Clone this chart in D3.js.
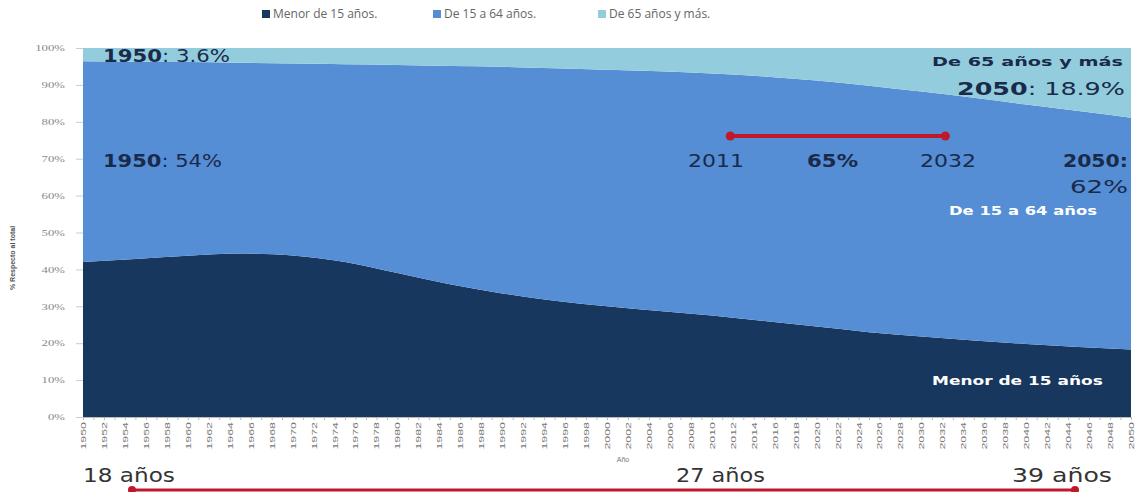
<!DOCTYPE html>
<html><head><meta charset="utf-8">
<script src="https://cdn.jsdelivr.net/npm/d3@7"></script>
<style>body{margin:0;background:#fff}svg{display:block}</style>
</head><body>
<svg id="c" width="1135" height="492"></svg>
<script>
const years =   [1950,1955,1960,1965,1970,1975,1980,1985,1990,1995,2000,2005,2010,2015,2020,2025,2030,2035,2040,2045,2050];
const young =   [42.0,42.8,43.7,44.3,43.8,42.0,39.0,36.0,33.5,31.5,30.0,28.7,27.5,26.0,24.5,23.0,21.8,20.7,19.8,19.0,18.3];
const old =     [3.6, 3.7, 3.8, 4.0, 4.2, 4.4, 4.6, 4.9, 5.1, 5.5, 5.9, 6.3, 6.9, 7.7, 8.8, 10.2,11.8,13.5,15.3,17.1,18.9];
const seriesNames = ["Menor de 15 años.","De 15 a 64 años.","De 65 años y más."];
const colors = ["#17375E","#558ED5","#93CDDD"];
const yTicks = [0,10,20,30,40,50,60,70,80,90,100];
const xLabelYears = d3.range(1950,2051,2);

const rows = years.map((y,i)=>({year:y, a:young[i], c:old[i], b:100-young[i]-old[i]}));
const svg = d3.select("#c");
const L=83,R=1131,T=48,B=417;
const x = d3.scaleLinear().domain([1950,2050]).range([L,R]);
const y = d3.scaleLinear().domain([0,100]).range([B,T]);
const stack = d3.stack().keys(["a","b","c"])(rows);
const area = d3.area().x(d=>x(d.data.year)).y0(d=>y(d[0])).y1(d=>y(d[1])).curve(d3.curveMonotoneX);
svg.append("g").selectAll("path").data(stack).join("path")
  .attr("d",area).attr("fill",(d,i)=>colors[i]);

function stretch(sel,k){
  sel.each(function(){const w=this.getComputedTextLength();
    d3.select(this).attr("textLength",w*k).attr("lengthAdjust","spacingAndGlyphs");});
}

// y axis
const ya = svg.append("g").attr("transform",`translate(${L},0)`)
  .call(d3.axisLeft(y).tickValues(yTicks).tickFormat(d=>d+"%").tickSize(7).tickPadding(11));
ya.select(".domain").remove();
ya.selectAll("line").attr("stroke","#ccc");
ya.selectAll("text").attr("fill","#888").style("font-family","Liberation Serif").style("font-size","8.5px");
stretch(ya.selectAll("text"),1.5);

// x axis
const xa = svg.append("g").attr("transform",`translate(0,${B})`)
  .call(d3.axisBottom(x).tickValues(d3.range(1950,2051,1)).tickFormat("").tickSize(3));
xa.select(".domain").attr("stroke","#bbb");
xa.selectAll("line").attr("stroke","#bbb");
const xl = svg.append("g").selectAll("text").data(xLabelYears).join("text")
  .attr("transform",d=>`translate(${x(d)+3},${B+5}) rotate(-90)`)
  .attr("text-anchor","end").attr("fill","#777")
  .style("font-family","Liberation Sans").style("font-size","8px").text(d=>d);
stretch(xl,1.55);
svg.append("text").attr("x",623).attr("y",462).attr("text-anchor","middle")
  .attr("fill","#777").style("font-family","Liberation Sans").style("font-size","7px").text("Año");
svg.append("text").attr("transform","translate(15,258) rotate(-90)").attr("text-anchor","middle")
  .attr("fill","#555").style("font-family","Liberation Sans").style("font-size","7px").style("font-weight","bold").text("% Respecto al total");

// legend
const lg = svg.append("g");
const lx = [262,433,598];
seriesNames.forEach((n,i)=>{
  lg.append("rect").attr("x",lx[i]).attr("y",10).attr("width",8).attr("height",8).attr("fill",colors[i]);
  lg.append("text").attr("x",lx[i]+11).attr("y",18).attr("fill","#666")
    .style("font-family","Open Sans").style("font-size","12px").text(n);
});

// annotations: x0 = left edge, width = target width
const ff="DejaVu Sans";
function rich(x0,w,yp,parts,size,fill){
  const t=svg.append("text").attr("x",x0).attr("y",yp).attr("fill",fill)
    .style("font-family",ff).style("font-size",size+"px");
  parts.forEach(p=>t.append("tspan").attr("font-weight",p[1]?"bold":"normal").text(p[0]));
  const nat=t.node().getComputedTextLength();
  t.attr("transform",`translate(${x0},0) scale(${w/nat},1) translate(${-x0},0)`);
  return t;
}
const navy="#1a2a4a";
rich(103,127,62,[["1950",1],[": 3.6%",0]],17,navy);
rich(103,119,167,[["1950",1],[": 54%",0]],17,navy);
rich(688,56,167,[["2011",0]],17,navy);
rich(807,51,167,[["65%",1]],17,navy);
rich(920,56,167,[["2032",0]],17,navy);
rich(1063,65,167,[["2050:",1]],17,navy);
rich(1070,58,193,[["62%",0]],17,navy);
rich(932,191,66,[["De 65 años y más",1]],12.5,navy);
rich(957,168,95,[["2050",1],[": 18.9%",0]],17,navy);
rich(949,148,215,[["De 15 a 64 años",1]],12,"#fff");
rich(932,171,385,[["Menor de 15 años",1]],13,"#fff");

const red="#c0182b";
function arrowLine(x1,x2,yy,w,s){
  svg.append("line").attr("x1",x1).attr("x2",x2).attr("y1",yy).attr("y2",yy)
    .attr("stroke",red).attr("stroke-width",w);
  [x1,x2].forEach(xx=>svg.append("circle").attr("cx",xx).attr("cy",yy).attr("r",s).attr("fill",red));
}
arrowLine(x(2011)+8,x(2032)+3,136,4,4.5);

rich(83,92,482,[["18 años",0]],19,"#333");
rich(676,89,482,[["27 años",0]],19,"#333");
rich(1012,100,482,[["39 años",0]],19,"#333");
arrowLine(132,1075,490,3,4);
</script>
</body></html>
